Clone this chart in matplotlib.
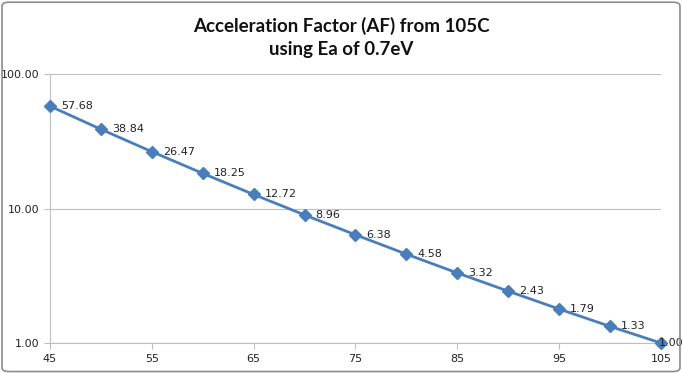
import matplotlib
matplotlib.use("Agg")
import matplotlib.pyplot as plt
from matplotlib.patches import FancyBboxPatch
from matplotlib.ticker import FixedLocator, NullLocator

# data
temps = [45, 50, 55, 60, 65, 70, 75, 80, 85, 90, 95, 100, 105]
af = [57.68, 38.84, 26.47, 18.25, 12.72, 8.96, 6.38, 4.58, 3.32, 2.43, 1.79, 1.33, 1.00]
xticks = [45, 55, 65, 75, 85, 95, 105]
yticks = [1, 10, 100]

fig = plt.figure(figsize=(6.82, 3.73), dpi=100)
ax = fig.add_axes([0.0733, 0.0804, 0.8957, 0.7212])

line_c = '#4a7ebb'
ax.plot(temps, af, color=line_c, lw=2, marker='D', ms=6, mfc=line_c, mec=line_c, zorder=5, clip_on=False)
for i, (x, y) in enumerate(zip(temps, af)):
    # last label is pushed back inside the chart like Excel does
    dx = 8 if i < len(temps) - 1 else -1.5
    ax.annotate(f'{y:.2f}', (x, y), xytext=(dx, 0), textcoords='offset points',
                ha='left', va='center', fontsize=8, color='#222222', zorder=6)

ax.set_yscale('log')
ax.set_ylim(1, 100)
ax.set_xlim(45, 105)
ax.yaxis.set_major_locator(FixedLocator(yticks))
ax.yaxis.set_minor_locator(NullLocator())
ax.set_yticklabels([f'{v:.2f}' for v in yticks])
ax.set_xticks(xticks)
ax.set_xticklabels([str(v) for v in xticks])
ax.grid(axis='y', color='#bfbfbf', lw=0.8)
ax.set_axisbelow(True)
for s in ['top', 'right']:
    ax.spines[s].set_visible(False)
for s in ['left', 'bottom']:
    ax.spines[s].set_color('#bfbfbf')
    ax.spines[s].set_linewidth(0.8)
ax.tick_params(axis='both', colors='#bfbfbf', length=4, width=0.8, labelsize=8, labelcolor='#222222')
ax.tick_params(axis='x', pad=4)

# title, two lines
fig.text(0.5, 1 - 32 / 373, 'Acceleration Factor (AF) from 105C', ha='center', va='baseline',
         fontsize=13.5, fontweight='bold', family='Lato', color='#111111')
fig.text(0.5, 1 - 55 / 373, 'using Ea of 0.7eV', ha='center', va='baseline',
         fontsize=13.5, fontweight='bold', family='Lato', color='#111111')

# outer border
fig.patches.append(FancyBboxPatch((0.003, 0.004), 0.994, 0.99, boxstyle='round,pad=0,rounding_size=0.01',
                                  transform=fig.transFigure, fill=False, ec='#8c8c8c', lw=1.2))

fig.savefig('out.png', dpi=100)
